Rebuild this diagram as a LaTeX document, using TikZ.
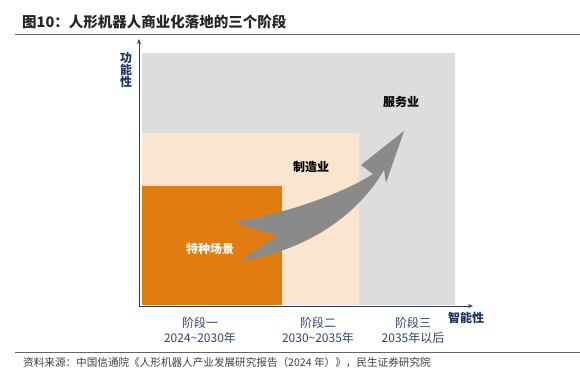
\documentclass[tikz,border=0pt]{standalone}
\usepackage{fontspec}
\newfontfamily\cjk{Noto Sans CJK SC}
\usetikzlibrary{arrows.meta}
\definecolor{bggray}{RGB}{221,221,221}
\definecolor{peach}{RGB}{251,229,206}
\definecolor{orng}{RGB}{224,124,16}
\definecolor{arrgray}{RGB}{138,138,138}
\definecolor{axisblue}{RGB}{46,58,110}
\definecolor{lblblue}{RGB}{31,52,100}
\definecolor{stageblue}{RGB}{52,68,105}
\definecolor{rulegray}{RGB}{100,100,100}
\tikzset{
  every node/.style={inner sep=0pt,font=\cjk},
  axlbl/.style={text=lblblue,font=\cjk\bfseries\fontsize{12}{13}\selectfont},
  seclbl/.style={text=black,font=\cjk\bfseries\fontsize{12}{13}\selectfont},
  stagelbl/.style={text=stageblue,align=center,font=\cjk\fontsize{12}{15}\selectfont},
  axisline/.style={draw=axisblue,line width=1pt,-{Stealth[length=5pt,width=4pt]}}
}
\begin{document}
\begin{tikzpicture}[x=1pt,y=-1pt]
\useasboundingbox (0,0) rectangle (580,378);
\fill[white] (0,0) rectangle (580,378);
% title
\node[anchor=west,font=\cjk\bfseries\fontsize{14.5}{16}\selectfont,text=black!85] (title) at (22,22) {图10：人形机器人商业化落地的三个阶段};
\draw[rulegray,line width=0.9pt] (15,34) -- (494,34);
\draw[rulegray,line width=1.8pt] (494,34.4) -- (580,34.4);
% regions
\fill[bggray] (142,53) rectangle (455,305);
\fill[peach] (142,133) rectangle (359,305);
\fill[orng] (142,186) rectangle (282,305);
% axes
\coordinate (o) at (139,306);
\coordinate (ytop) at (139,39);
\coordinate (xend) at (473,306);
\draw[axisline] (o) -- (ytop);
\draw[axisline] (o) -- (xend);
\node[axlbl,align=center] (ylbl) at (126,70) {功\\[-1pt]能\\[-1pt]性};
\node[axlbl] (xlbl) at (466,318) {智能性};
% big arrow
\fill[arrgray] (404,131) -- (386,183) -- (384,170)
  .. controls (355,220) and (300,252) .. (240,261)
  -- (277,236) -- (233,222)
  .. controls (290,213) and (345,192) .. (373,174)
  -- (361,165) -- cycle;
% labels
\node[seclbl] (fuwu) at (401,102) {服务业};
\node[seclbl] (zhizao) at (311,167) {制造业};
\node[seclbl,text=white] (tezhong) at (210,249) {特种场景};
\node[stagelbl] (s1) at (200,330) {阶段一\\2024\textasciitilde2030年};
\node[stagelbl] (s2) at (318,330) {阶段二\\2030\textasciitilde2035年};
\node[stagelbl] (s3) at (413,330) {阶段三\\2035年以后};
% source
\draw[rulegray,line width=1pt] (15,352) -- (580,352);
\node[anchor=west,text=black!75,font=\cjk\fontsize{10.6}{12}\selectfont] (src) at (23,363) {资料来源：中国信通院《人形机器人产业发展研究报告（2024 年）》，民生证券研究院};
\end{tikzpicture}
\end{document}
